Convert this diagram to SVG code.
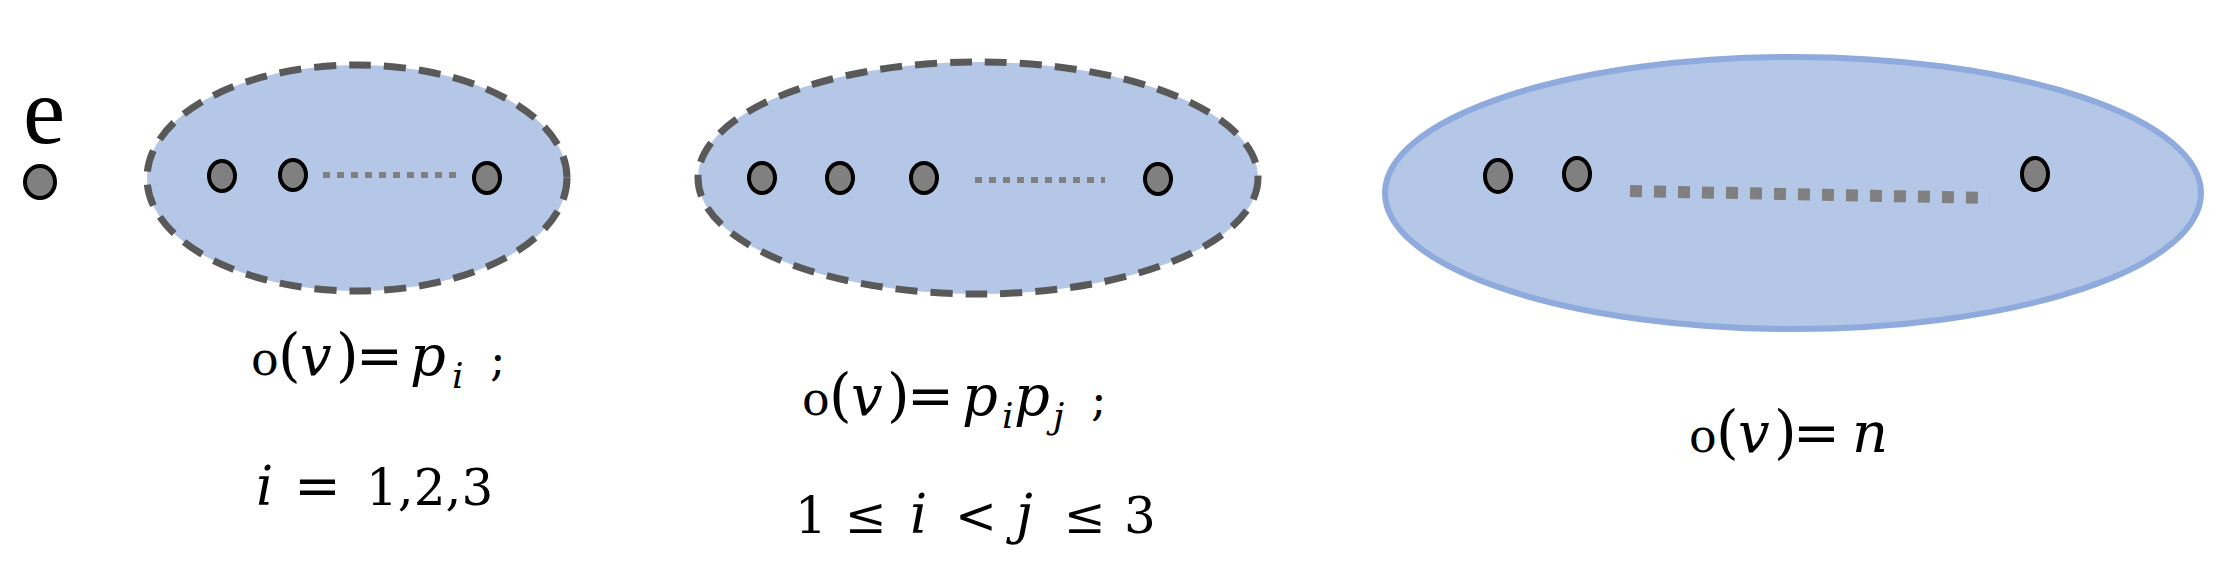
<svg xmlns="http://www.w3.org/2000/svg" width="2222" height="579" viewBox="0 0 2222 579">
<style>
.dash{fill:#B4C7E7;stroke:#595959;stroke-width:7;stroke-dasharray:22 13}
.solid{fill:#B4C7E7;stroke:#8FAADC;stroke-width:6}
.dot{fill:#808080;stroke:#000;stroke-width:4}
.dl{fill:none;stroke:#808080;stroke-width:6;stroke-dasharray:7 7}
.dl3{fill:none;stroke:#808080;stroke-width:12;stroke-dasharray:12 12}
.t{font-family:"Liberation Serif",serif;fill:#000}
.m{font-family:"DejaVu Serif","Liberation Serif",serif;fill:#000}
.it{font-style:italic}
.pa{font-size:58px}
.v{font-size:56px;font-style:italic}
.eq{font-size:56px}
.sub{font-size:36px;font-style:italic}
</style>
<rect width="2222" height="579" fill="#fff"/>
<g id="element-e">
<text class="t" x="23" y="143" font-size="95">e</text>
<ellipse class="dot" cx="40" cy="182" rx="15" ry="16"/>
</g>
<g id="group1">
<ellipse class="dash" cx="357" cy="178" rx="210" ry="113"/>
<ellipse class="dot" cx="222" cy="176" rx="13" ry="15"/>
<ellipse class="dot" cx="293" cy="175" rx="13" ry="15"/>
<ellipse class="dot" cx="487" cy="178" rx="13" ry="15"/>
<text class="m" y="375" font-size="46"><tspan x="251">o</tspan><tspan class="pa" x="278">(</tspan><tspan class="v" x="300">v</tspan><tspan class="pa" x="336">)</tspan><tspan class="eq" x="356">=</tspan><tspan class="v" x="410">p</tspan><tspan class="sub" x="452" y="388">i</tspan><tspan x="490" y="375">;</tspan></text>
<text class="m" y="505" font-size="50"><tspan class="it" font-size="54" x="256">i</tspan><tspan class="eq" x="294">=</tspan><tspan x="366">1,2,3</tspan></text>
</g>
<g id="group2">
<ellipse class="dash" cx="978" cy="178" rx="280" ry="116"/>
<ellipse class="dot" cx="762" cy="178" rx="13" ry="15"/>
<ellipse class="dot" cx="840" cy="178" rx="13" ry="15"/>
<ellipse class="dot" cx="924" cy="178" rx="13" ry="15"/>
<ellipse class="dot" cx="1158" cy="179" rx="13" ry="15"/>
<text class="m" y="415" font-size="46"><tspan x="802">o</tspan><tspan class="pa" x="829">(</tspan><tspan class="v" x="851">v</tspan><tspan class="pa" x="887">)</tspan><tspan class="eq" x="907">=</tspan><tspan class="v" x="962">p</tspan><tspan class="sub" x="1002" y="428">i</tspan><tspan class="v" x="1014" y="415">p</tspan><tspan class="sub" x="1053" y="428">j</tspan><tspan x="1091" y="415">;</tspan></text>
<text class="m" y="533" font-size="50"><tspan x="795">1</tspan><tspan x="845">≤</tspan><tspan class="it" font-size="54" x="910">i</tspan><tspan x="955">&lt;</tspan><tspan class="it" font-size="54" x="1016">j</tspan><tspan x="1064">≤</tspan><tspan x="1124">3</tspan></text>
</g>
<g id="group3">
<ellipse class="solid" cx="1793" cy="193" rx="408" ry="136"/>
<ellipse class="dot" cx="1498" cy="176" rx="13" ry="16"/>
<ellipse class="dot" cx="1577" cy="174" rx="13" ry="16"/>
<ellipse class="dot" cx="2035" cy="174" rx="13" ry="16"/>
<text class="m" y="452" font-size="46"><tspan x="1689">o</tspan><tspan class="pa" x="1716">(</tspan><tspan class="v" x="1738">v</tspan><tspan class="pa" x="1774">)</tspan><tspan class="eq" x="1793">=</tspan><tspan class="v" x="1852">n</tspan></text>
</g>
<g id="connectors">
<line class="dl" x1="323" y1="175" x2="460" y2="175"/>
<line class="dl" x1="975" y1="180" x2="1105" y2="180"/>
<line class="dl3" x1="1630" y1="191" x2="1990" y2="198"/>
</g>
</svg>
